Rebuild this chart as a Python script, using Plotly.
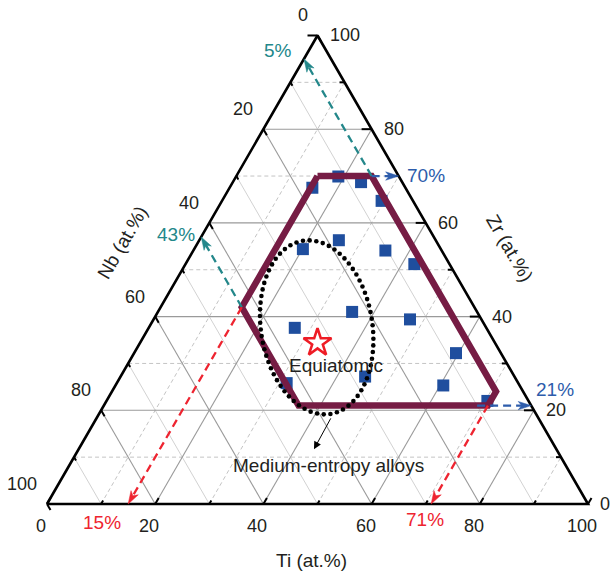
import numpy as np
import plotly.graph_objects as go

H = np.sqrt(3) / 2
PX = 5.41  # pixels per composition unit (triangle side = 100)

# ---------------- data (at.%) ----------------
alloy_ti = [15.3, 18.9, 23.7, 29.5, 25.8, 20.1, 35.5, 42.3, 35.9, 27.0, 47.4, 59.5, 45.2, 31.4, 60.6, 70.4]
alloy_zr = [67.5, 69.9, 68.7, 64.7, 56.3, 54.4, 54.1, 51.2, 41.0, 37.6, 39.4, 32.2, 27.2, 25.8, 25.3, 22.0]
alloy_nb = [17.2, 11.2, 7.6, 5.8, 17.9, 25.5, 10.4, 6.5, 23.1, 35.4, 13.2, 8.3, 27.6, 42.8, 14.1, 7.6]

equi_ti = [32.8]
equi_zr = [34.4]
equi_nb = [32.8]

region_ti = [15, 25, 71, 71, 36, 15, 15]
region_zr = [70, 70, 24, 21, 21, 42, 70]
region_nb = [15, 5, 5, 8, 43, 43, 15]

bound_labels = ["5%", "43%", "15%", "71%", "70%", "21%"]
bound_start_ti = [25, 15, 15, 71, 25, 69]
bound_start_zr = [70, 42, 42, 21, 70, 21]
bound_end_ti = [0, 0, 15, 71, 30, 79]
bound_end_zr = [95, 57, 0, 0, 70, 21]

tick_values = [0, 20, 40, 60, 80, 100]
grid_values = [10, 20, 30, 40, 50, 60, 70, 80, 90]

# ---------------- styles ----------------
TEAL = "#23878a"
RED = "#ee2430"
BLUE = "#2d5cab"
TXT = "#231f20"
bound_colors = [TEAL, TEAL, RED, RED, BLUE, BLUE]
# label offsets from arrow end (pixels, +x right, +y up)
bound_label_off = [(-26, 8), (-25, 2), (-26, -18), (-6, -15), (27, 1), (24, 16)]
FONT = "Arial, Liberation Sans, sans-serif"
TICK_SIZE = 18
TEXT_SIZE = 19


def to_xy(ti, zr):
    ti = np.asarray(ti, dtype=float)
    zr = np.asarray(zr, dtype=float)
    return ti + zr / 2.0, zr * H


fig = go.Figure()


def add_lines(segs, color, width, dash="solid"):
    xs, ys = [], []
    for (x0, y0), (x1, y1) in segs:
        xs += [x0, x1, None]
        ys += [y0, y1, None]
    fig.add_trace(go.Scatter(x=xs, y=ys, mode="lines", hoverinfo="skip",
                             line=dict(color=color, width=width, dash=dash)))


# ---- grid ----
maj, min_dash, min_solid = [], [], []
for v in grid_values:
    zr_seg = (to_xy(0, v), to_xy(100 - v, v))            # constant Zr
    ti_seg = (to_xy(v, 0), to_xy(v, 100 - v))            # constant Ti
    nb_seg = (to_xy(0, 100 - v), to_xy(100 - v, 0))      # constant Nb
    if v % 20 == 0:
        maj += [zr_seg, ti_seg, nb_seg]
    else:
        min_dash += [zr_seg, ti_seg]
        min_solid += [nb_seg]
add_lines(min_solid, "#d2d2d2", 1)
add_lines(min_dash, "#c4c4c4", 1, "4px,3px")
add_lines(maj, "#9a9a9a", 1.1)

# ---- ticks ----
ticks = []
for v in range(0, 101, 10):
    L = (10 if v % 20 == 0 else 5) / PX
    x, y = to_xy(100 - v, v)          # Zr ticks on right edge, pointing left
    ticks.append(((x, y), (x - L, y)))
    L2 = (7 if v % 20 == 0 else 4) / PX
    x, y = to_xy(0, 100 - v)          # Nb ticks on left edge, pointing down-right
    ticks.append(((x, y), (x + 0.5 * L2, y - H * L2)))
    x, y = to_xy(v, 0)                # Ti ticks on bottom edge, pointing up-right
    ticks.append(((x, y), (x + 0.5 * L2, y + H * L2)))
add_lines(ticks, "black", 2)

# ---- triangle frame ----
fx, fy = to_xy([0, 100, 0, 0], [0, 0, 100, 0])
fig.add_trace(go.Scatter(x=fx, y=fy, mode="lines", hoverinfo="skip",
                         line=dict(color="black", width=2.6)))

# ---- alloys ----
ax_, ay_ = to_xy(alloy_ti, alloy_zr)
fig.add_trace(go.Scatter(x=ax_, y=ay_, mode="markers", hoverinfo="skip",
                         marker=dict(symbol="square", size=12, color="#1f4e9e",
                                     line=dict(width=0))))

# ---- region polygon ----
rx, ry = to_xy(region_ti, region_zr)
fig.add_trace(go.Scatter(x=rx, y=ry, mode="lines", hoverinfo="skip",
                         line=dict(color="#761c44", width=6.5)))

# ---- dotted ellipse (medium-entropy region) ----
ell_c = to_xy(31.0, 37.7)
ell_a, ell_b, ell_rot = 10.3, 16.2, np.deg2rad(9)
t = np.linspace(0, 2 * np.pi, 2000)
ex = ell_c[0] + ell_a * np.cos(t) * np.cos(ell_rot) - ell_b * np.sin(t) * np.sin(ell_rot)
ey = ell_c[1] + ell_a * np.cos(t) * np.sin(ell_rot) + ell_b * np.sin(t) * np.cos(ell_rot)
seg = np.hypot(np.diff(ex), np.diff(ey))
cum = np.concatenate([[0], np.cumsum(seg)])
n_dots = int(cum[-1] * PX / 6.7)
s = np.linspace(0, cum[-1], n_dots, endpoint=False)
fig.add_trace(go.Scatter(x=np.interp(s, cum, ex), y=np.interp(s, cum, ey),
                         mode="markers", hoverinfo="skip",
                         marker=dict(symbol="circle", size=4.6, color="black",
                                     line=dict(width=0))))

# ---- bound arrows ----
annotations = []
HL, HW, NOTCH = 13 / PX, 4.2 / PX, 3.5 / PX
for i, lab in enumerate(bound_labels):
    x0, y0 = to_xy(bound_start_ti[i], bound_start_zr[i])
    x1, y1 = to_xy(bound_end_ti[i], bound_end_zr[i])
    d = np.array([x1 - x0, y1 - y0])
    u = d / np.linalg.norm(d)
    nrm = np.array([-u[1], u[0]])
    tip = np.array([x1, y1])
    base = tip - u * HL
    lend = tip - u * HL * 0.7
    c = bound_colors[i]
    fig.add_trace(go.Scatter(x=[x0, lend[0]], y=[y0, lend[1]], mode="lines",
                             hoverinfo="skip",
                             line=dict(color=c, width=2.3, dash="8px,5px")))
    notch = tip - u * (HL - NOTCH)
    hx = [tip[0], (base + nrm * HW)[0], notch[0], (base - nrm * HW)[0], tip[0]]
    hy = [tip[1], (base + nrm * HW)[1], notch[1], (base - nrm * HW)[1], tip[1]]
    fig.add_trace(go.Scatter(x=hx, y=hy, mode="lines", fill="toself", fillcolor=c,
                             hoverinfo="skip", line=dict(color=c, width=0.5)))
    ox, oy = bound_label_off[i]
    annotations.append(dict(x=x1 + ox / PX, y=y1 + oy / PX, text=lab, showarrow=False,
                            xanchor="center", yanchor="middle",
                            font=dict(family=FONT, size=TEXT_SIZE, color=c)))

# ---- equiatomic star ----
sx, sy = to_xy(equi_ti, equi_zr)
fig.add_trace(go.Scatter(x=sx, y=sy, mode="markers", hoverinfo="skip",
                         marker=dict(symbol="star", size=21, color="white",
                                     line=dict(color="#ee1c25", width=2.6))))

# ---- tick labels ----
for v in tick_values:
    x, y = to_xy(0, 100 - v)   # Nb on left edge
    annotations.append(dict(x=x - 8 / PX, y=y + 20 / PX, text=str(v), showarrow=False,
                            xanchor="right", yanchor="middle",
                            font=dict(family=FONT, size=TICK_SIZE, color=TXT)))
    x, y = to_xy(100 - v, v)   # Zr on right edge
    annotations.append(dict(x=x + 10 / PX, y=y, text=str(v), showarrow=False,
                            xanchor="left", yanchor="middle",
                            font=dict(family=FONT, size=TICK_SIZE, color=TXT)))
    x, y = to_xy(v, 0)         # Ti on bottom edge
    annotations.append(dict(x=x - 6 / PX, y=y - 22 / PX, text=str(v), showarrow=False,
                            xanchor="center", yanchor="middle",
                            font=dict(family=FONT, size=TICK_SIZE, color=TXT)))

# ---- axis titles ----
tx, ty = to_xy(50, 0)
annotations.append(dict(x=tx - 1.2, y=ty - 56 / PX, text="Ti (at.%)", showarrow=False,
                        font=dict(family=FONT, size=TEXT_SIZE, color=TXT)))
lx, ly = to_xy(0, 50)
annotations.append(dict(x=lx - 11.1, y=ly + 5.1, text="Nb (at.%)", showarrow=False,
                        textangle=-60, font=dict(family=FONT, size=TEXT_SIZE, color=TXT)))
rx_, ry_ = to_xy(50, 50)
annotations.append(dict(x=rx_ + 10.6, y=ry_ + 4.0, text="Zr (at.%)", showarrow=False,
                        textangle=60, font=dict(family=FONT, size=TEXT_SIZE, color=TXT)))

# ---- region labels ----
qx, qy = to_xy(38.6, 29.5)
annotations.append(dict(x=qx, y=qy, text="Equiatomic", showarrow=False,
                        font=dict(family=FONT, size=TEXT_SIZE, color=TXT)))
mx, my = to_xy(47.8, 8.3)
annotations.append(dict(x=mx, y=my, text="Medium-entropy alloys", showarrow=False,
                        font=dict(family=FONT, size=TEXT_SIZE, color=TXT)))
ha, hb = to_xy(43.5, 11.7), to_xy(43.3, 18.6)
annotations.append(dict(x=ha[0], y=ha[1], ax=hb[0], ay=hb[1], axref="x", ayref="y",
                        text="", showarrow=True, arrowhead=2,
                        arrowsize=1.5, arrowwidth=1, arrowcolor="black"))

for a in annotations:
    a.setdefault("xref", "x")
    a.setdefault("yref", "y")

fig.update_layout(
    width=611, height=572, margin=dict(l=0, r=0, t=0, b=0),
    paper_bgcolor="white", plot_bgcolor="white", showlegend=False,
    xaxis=dict(range=[-47 / PX, (611 - 47) / PX], visible=False, fixedrange=True),
    yaxis=dict(range=[(504 - 572) / PX, 504 / PX], visible=False, fixedrange=True),
    annotations=annotations,
)

fig.write_html("out.html")
